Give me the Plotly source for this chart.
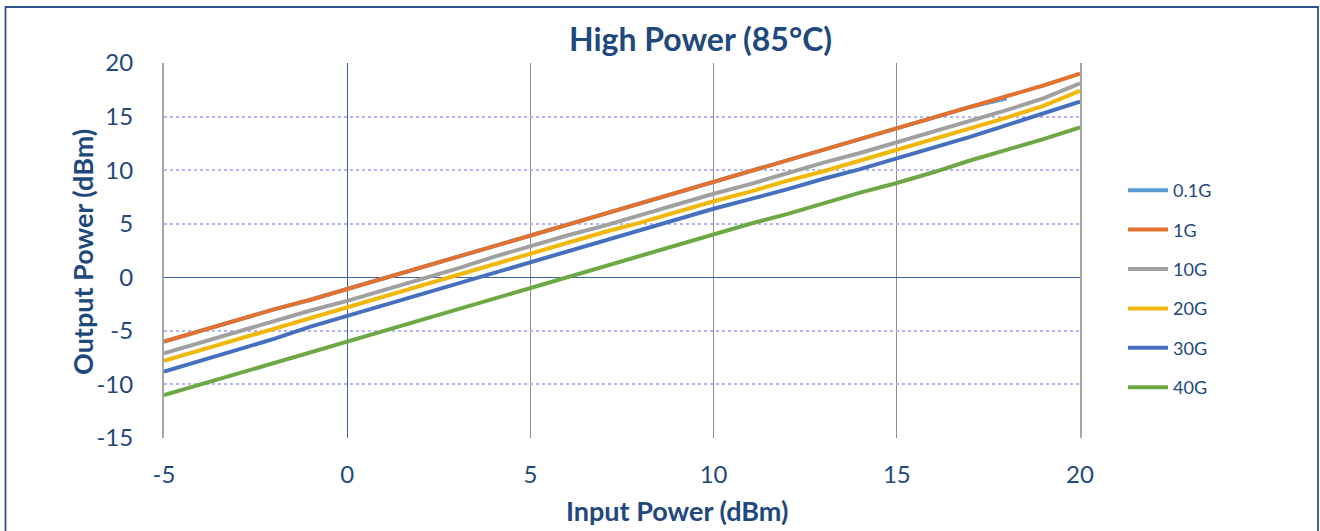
import plotly.graph_objects as go

# ---- data ----
input_power = [-5, -4, -3, -2, -1, 0, 1, 2, 3, 4, 5, 6, 7, 8, 9, 10,
               11, 12, 13, 14, 15, 16, 17, 18, 19, 20]

out_0p1g = [-6.0, -5.0, -4.0, -3.0, -2.1, -1.1, -0.1, 0.9, 1.9, 2.9, 3.9, 4.9,
            5.9, 6.9, 7.9, 8.9, 9.9, 10.9, 11.9, 12.9, 13.9, 14.9, 15.9, 16.7]
out_1g = [-6.0, -5.0, -4.0, -3.0, -2.1, -1.1, -0.1, 0.9, 1.9, 2.9, 3.9, 4.9,
          5.9, 6.9, 7.9, 8.9, 9.9, 10.9, 11.9, 12.9, 13.9, 14.9, 15.9, 16.9,
          17.9, 19.0]
out_10g = [-7.1, -6.1, -5.1, -4.1, -3.1, -2.2, -1.2, -0.2, 0.8, 1.9, 2.9, 3.9,
           4.8, 5.8, 6.8, 7.8, 8.7, 9.7, 10.7, 11.6, 12.6, 13.6, 14.6, 15.6,
           16.7, 18.1]
out_20g = [-7.8, -6.8, -5.8, -4.8, -3.8, -2.8, -1.8, -0.8, 0.2, 1.2, 2.2, 3.2,
           4.2, 5.1, 6.1, 7.1, 8.0, 9.0, 9.9, 10.9, 11.9, 12.9, 13.9, 14.9,
           16.0, 17.4]
out_30g = [-8.8, -7.8, -6.8, -5.75, -4.6, -3.6, -2.6, -1.6, -0.6, 0.4, 1.4,
           2.4, 3.4, 4.4, 5.4, 6.4, 7.3, 8.2, 9.2, 10.1, 11.1, 12.1, 13.1,
           14.2, 15.3, 16.4]
out_40g = [-11.0, -10.0, -9.0, -8.0, -7.0, -5.95, -5.0, -4.0, -3.0, -2.0,
           -1.0, 0.0, 1.0, 2.0, 3.0, 4.0, 5.0, 5.9, 6.9, 7.9, 8.8, 9.8, 10.9,
           11.9, 12.9, 14.0]

series_names = ["0.1G", "1G", "10G", "20G", "30G", "40G"]
series_values = [out_0p1g, out_1g, out_10g, out_20g, out_30g, out_40g]
series_colors = ["#5B9BD5", "#E2722F", "#A0A0A0", "#F2B705", "#4570C0", "#6CA844"]

x_ticks = [-5, 0, 5, 10, 15, 20]
y_ticks = [-15, -10, -5, 0, 5, 10, 15, 20]

TEXT = "#1F497D"
FONT = "Lato"

fig = go.Figure()
for i, (name, vals, col) in enumerate(zip(series_names, series_values, series_colors)):
    fig.add_trace(go.Scatter(
        x=input_power[:len(vals)], y=vals, mode="lines", name=name,
        line=dict(color=col, width=4), legendgroup=f"g{i}",
    ))

L, R, T, B = 164, 240, 63, 93
W, H = 1320, 531
pw, ph = W - L - R, H - T - B


def px_x(px):
    return (px - L) / pw


def px_y(py):
    return (H - B - py) / ph


fig.update_layout(
    width=W, height=H,
    margin=dict(l=L, r=R, t=T, b=B, autoexpand=False),
    paper_bgcolor="white", plot_bgcolor="white",
    font=dict(family=FONT, color=TEXT),
    showlegend=True,
    legend=dict(
        x=px_x(1123), y=px_y(172), xanchor="left", yanchor="top",
        font=dict(size=18, color=TEXT, family=FONT),
        tracegroupgap=13, itemwidth=40, bgcolor="rgba(0,0,0,0)",
    ),
    xaxis=dict(
        range=[-5, 20], tickvals=x_ticks, ticktext=[str(v) for v in x_ticks],
        showgrid=True, gridcolor="#8C8C8C", gridwidth=1,
        zeroline=True, zerolinecolor="#3B62A8", zerolinewidth=1.3,
        showline=False, ticks="", ticklabelstandoff=20,
        tickfont=dict(size=24, color=TEXT, family=FONT),
    ),
    yaxis=dict(
        range=[-15, 20], tickvals=y_ticks, ticktext=[str(v) for v in y_ticks],
        showgrid=True, gridcolor="#B4B4F8", gridwidth=1.5, griddash="dot",
        zeroline=True, zerolinecolor="#3B62A8", zerolinewidth=1.3,
        showline=True, linecolor="#A6A6A6", linewidth=2, mirror=True,
        ticks="", ticklabelstandoff=24,
        tickfont=dict(size=24, color=TEXT, family=FONT),
    ),
    annotations=[
        dict(text="<b>High Power (85°C)</b>", x=px_x(700), y=px_y(38),
             xref="paper", yref="paper", xanchor="center", yanchor="middle",
             showarrow=False, font=dict(size=32, color=TEXT, family=FONT)),
        dict(text="<b>Input Power (dBm)</b>", x=px_x(677), y=px_y(510),
             xref="paper", yref="paper", xanchor="center", yanchor="middle",
             showarrow=False, font=dict(size=27, color=TEXT, family=FONT)),
        dict(text="<b>Output Power (dBm)</b>", x=px_x(82), y=px_y(252),
             xref="paper", yref="paper", xanchor="center", yanchor="middle",
             textangle=-90, showarrow=False,
             font=dict(size=27, color=TEXT, family=FONT)),
    ],
    shapes=[
        dict(type="rect", xref="paper", yref="paper",
             x0=px_x(5.5), x1=px_x(1318), y0=px_y(535), y1=px_y(7),
             line=dict(color="#2F528F", width=1.8), fillcolor="rgba(0,0,0,0)",
             layer="below"),
    ],
)

fig.write_html("out.html",
               config={"displayModeBar": False},
               post_script="document.body.style.margin='0';"
                           "document.body.style.padding='0';")
